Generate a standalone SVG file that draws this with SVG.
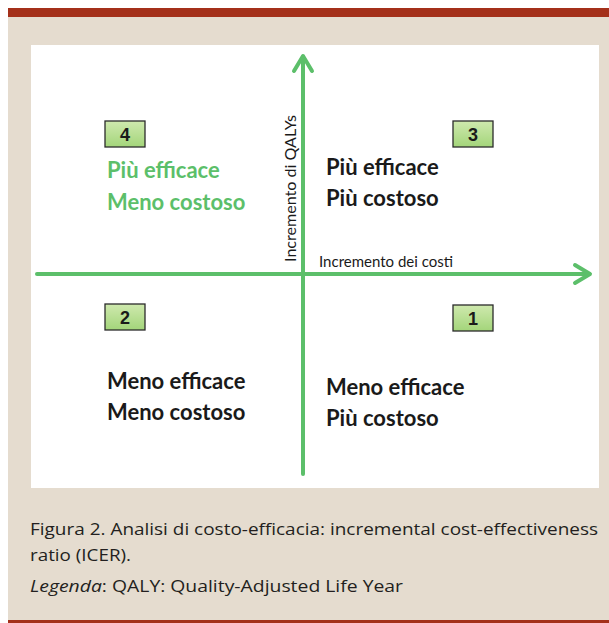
<svg xmlns="http://www.w3.org/2000/svg" width="609" height="623" viewBox="0 0 609 623">
<defs>
<linearGradient id="boxg" x1="0" y1="0" x2="0" y2="1">
<stop offset="0" stop-color="#cfe9ae"/>
<stop offset="1" stop-color="#a3d57a"/>
</linearGradient>
<style>
.box{fill:url(#boxg);stroke:#2b2b2b;stroke-width:1.3}
.num{font-family:"Liberation Sans",Arial,sans-serif;font-weight:bold;font-size:18px;fill:#1a1a1a;text-anchor:middle}
.q{font-family:Lato,"Open Sans",sans-serif;font-weight:bold;font-size:22px;fill:#1a1a1a}
.qg{fill:#5cbf6a}
.ax{font-family:Lato,"Open Sans",sans-serif;font-size:14.5px;fill:#1a1a1a}
.cap{font-family:"Open Sans","Noto Sans",sans-serif;font-size:17px;fill:#231f20}
.arr{stroke:#5cbf6a;stroke-width:4;fill:none;stroke-linecap:round;stroke-linejoin:round}
</style>
</defs>
<rect x="8" y="8" width="601" height="615" fill="#e5dccf"/>
<rect x="8" y="8" width="601" height="9" fill="#a4301a"/>
<rect x="8" y="620" width="601" height="3" fill="#a4301a"/>
<rect x="31" y="45" width="568" height="443" fill="#ffffff"/>
<g id="connectors">
<line class="arr" x1="37" y1="274" x2="589" y2="274"/>
<polyline class="arr" points="575,265 590,274 575,283"/>
<line class="arr" x1="303" y1="474" x2="303" y2="57"/>
<polyline class="arr" points="294,71 303,56 312,71"/>
</g>
<g id="axis-x"><text class="ax" x="319" y="267" textLength="134" lengthAdjust="spacingAndGlyphs">Incremento dei costi</text></g>
<g id="axis-y"><text class="ax" transform="translate(296,262) rotate(-90)" textLength="147" lengthAdjust="spacingAndGlyphs">Incremento di QALYs</text></g>
<g id="q4">
<rect class="box" x="105" y="121" width="40" height="26"/>
<text class="num" x="125" y="140.5">4</text>
<text class="q qg" x="107" y="178">Più efficace</text>
<text class="q qg" x="107" y="210">Meno costoso</text>
</g>
<g id="q3">
<rect class="box" x="453" y="121" width="40" height="26"/>
<text class="num" x="473" y="140.5">3</text>
<text class="q" x="326" y="175">Più efficace</text>
<text class="q" x="326" y="206">Più costoso</text>
</g>
<g id="q2">
<rect class="box" x="105" y="304" width="40" height="26"/>
<text class="num" x="125" y="323.5">2</text>
<text class="q" x="107" y="389">Meno efficace</text>
<text class="q" x="107" y="420">Meno costoso</text>
</g>
<g id="q1">
<rect class="box" x="453" y="305" width="40" height="26"/>
<text class="num" x="473" y="324.5">1</text>
<text class="q" x="326" y="395">Meno efficace</text>
<text class="q" x="326" y="426">Più costoso</text>
</g>
<g id="caption">
<text class="cap" x="30" y="535" textLength="568" lengthAdjust="spacingAndGlyphs">Figura 2. Analisi di costo-efficacia: incremental cost-effectiveness</text>
<text class="cap" x="30" y="561" textLength="101" lengthAdjust="spacingAndGlyphs">ratio (ICER).</text>
<text class="cap" x="30" y="592" textLength="373" lengthAdjust="spacingAndGlyphs"><tspan font-style="italic">Legenda</tspan>: QALY: Quality-Adjusted Life Year</text>
</g>
</svg>
